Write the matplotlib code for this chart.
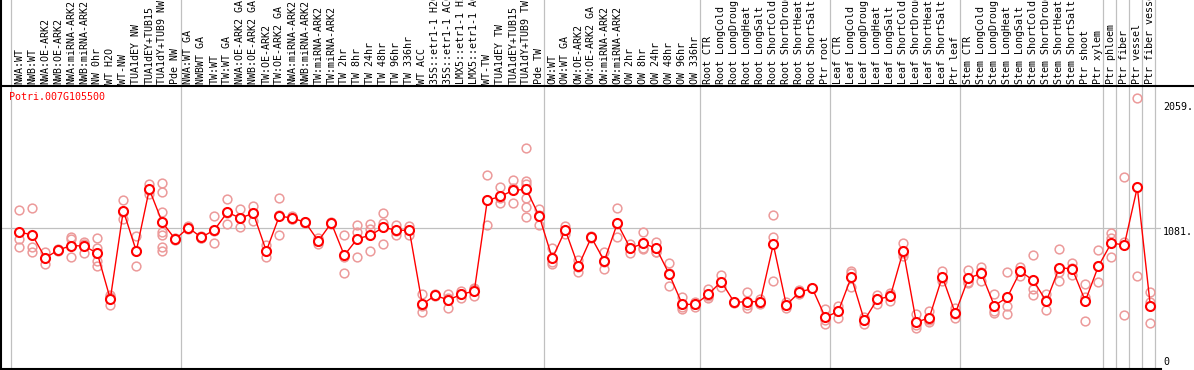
import matplotlib
matplotlib.use("Agg")
import matplotlib.pyplot as plt
from matplotlib.lines import Line2D
from matplotlib.transforms import blended_transform_factory, ScaledTranslation

# ---------------- data ----------------
title = "Potri.007G105500"

labels = [
    'NWA:WT', 'NWB:WT', 'NWA:OE-ARK2', 'NWB:OE-ARK2', 'NWA:miRNA-ARK2', 'NWB:miRNA-ARK2',
    'NW 0hr', 'WT H2O', 'WT-NW', 'TUA1dEY NW', 'TUA1dEY+TUB15', 'TUA1dY+TUB9 NW', 'Pde NW',
    'NWA:WT GA', 'NWBWT GA', 'TW:WT', 'TW:WT GA', 'NWA:OE-ARK2 GA', 'NWB:OE-ARK2 GA',
    'TW:OE-ARK2', 'TW:OE-ARK2 GA', 'NWA:miRNA-ARK2', 'NWB:miRNA-ARK2', 'TW:miRNA-ARK2',
    'TW:miRNA-ARK2', 'TW 2hr', 'TW 8hr', 'TW 24hr', 'TW 48hr', 'TW 96hr', 'TW 336hr', 'WT ACC',
    '35S::etr1-1 H2O', '35S::etr1-1 ACC', 'LMX5::etr1-1 H2O', 'LMX5::etr1-1 ACC', 'WT-TW',
    'TUA1dEY TW', 'TUA1dEY+TUB15', 'TUA1dY+TUB9 TW', 'Pde TW',
    'OW:WT', 'OW:WT GA', 'OW:OE-ARK2', 'OW:OE-ARK2 GA', 'OW:miRNA-ARK2', 'OW:miRNA-ARK2',
    'OW 2hr', 'OW 8hr', 'OW 24hr', 'OW 48hr', 'OW 96hr', 'OW 336hr',
    'Root CTR', 'Root LongCold', 'Root LongDrought', 'Root LongHeat', 'Root LongSalt',
    'Root ShortCold', 'Root ShortDrought', 'Root ShortHeat', 'Root ShortSalt', 'Ptr root',
    'Leaf CTR', 'Leaf LongCold', 'Leaf LongDrought', 'Leaf LongHeat', 'Leaf LongSalt',
    'Leaf ShortCold', 'Leaf ShortDrought', 'Leaf ShortHeat', 'Leaf ShortSalt', 'Ptr leaf',
    'Stem CTR', 'Stem LongCold', 'Stem LongDrought', 'Stem LongHeat', 'Stem LongSalt',
    'Stem ShortCold', 'Stem ShortDrought', 'Stem ShortHeat', 'Stem ShortSalt', 'Ptr shoot',
    'Ptr xylem', 'Ptr phloem', 'Ptr fiber', 'Ptr vessel', 'Ptr fiber vessel',
]

group_sizes = [13, 28, 12, 10, 10, 11, 1, 1, 1, 1]

means = [
    1051, 1027, 841, 906, 941, 938, 879, 509, 1224, 897, 1396, 1129, 992,
    1086, 1008, 1067, 1210, 1164, 1202, 897, 1180, 1164, 1129, 978, 1124, 862, 997, 1024,
    1089, 1065, 1065, 466, 539, 501, 547, 574, 1307, 1339, 1388, 1396, 1178,
    838, 1067, 773, 1008, 817, 1121, 919, 959, 919, 709, 466, 466,
    547, 650, 482, 488, 488, 951, 461, 563, 596, 361,
    410, 687, 337, 507, 531, 900, 321, 358, 690, 393,
    676, 717, 455, 523, 733, 660, 491, 763, 752, 493, 773,
    962, 946, 1412, 455,
]

replicates = [
    [1226, 992, 927], [1242, 927, 892], [892, 838, 790], [900, 906, 912],
    [1008, 992, 846], [970, 957, 884], [1000, 919, 817, 779], [542, 527, 458],
    [1307, 1212, 1153], [1016, 900, 773], [1442, 1390, 1361],
    [1445, 1372, 1213, 1051, 1024, 927, 900], [1000, 992, 984],
    [1100, 1080, 1078], [1021, 1003, 1000], [1180, 1062, 959], [1315, 1205, 1113],
    [1237, 1164, 1089], [1261, 1202, 1143], [946, 900, 846], [1323, 1190, 1024],
    [1183, 1156, 1153], [1135, 1129, 1124], [1000, 978, 954], [1130, 1124, 1118],
    [1024, 845, 717], [1108, 1048, 852], [1116, 1073, 895], [1202, 1121, 951],
    [1108, 1062, 1024], [1100, 1065, 1027], [547, 450, 402], [547, 539, 531],
    [547, 520, 434], [574, 547, 520], [601, 590, 531], [1509, 1307, 1105],
    [1412, 1323, 1283], [1471, 1410, 1283], [1727, 1463, 1436, 1323, 1256, 1170],
    [1237, 1187, 1110],
    [919, 806, 790], [1102, 1067, 1032], [822, 768, 730], [1015, 1008, 1000],
    [889, 810, 752], [1242, 1113, 1008], [954, 919, 884], [1048, 919, 911],
    [973, 892, 892], [798, 717, 612], [526, 447, 426], [485, 466, 447],
    [590, 531, 520], [703, 650, 609], [488, 482, 476], [566, 464, 434],
    [509, 488, 466], [1186, 1008, 655], [488, 461, 434], [579, 563, 547],
    [596], [426, 340, 307],
    [453, 410, 353], [736, 717, 609], [367, 337, 305], [542, 512, 466],
    [558, 539, 496], [959, 880, 860], [388, 297, 278], [412, 336, 326],
    [736, 680, 655], [434, 388, 358],
    [741, 645, 641], [765, 728, 658], [547, 412, 393], [728, 455, 391],
    [765, 738, 695], [862, 590, 542], [547, 505, 420], [916, 730, 655],
    [798, 757, 701], [628, 522, 329], [903, 773, 644],
    [1043, 1000, 852], [1493, 973, 377], [2132, 692], [566, 482, 313],
]

ytick_vals = [0, 1081, 2059]
ytick_labels = ['0', '1081.', '2059.']
grid_val = 1081

# ---------------- layout ----------------
W, H = 1194, 370
fig = plt.figure(figsize=(W / 100, H / 100), dpi=100)

def fx(px):
    return px / W

def fy(py):
    return 1 - py / H

ax_l, ax_r, ax_t, ax_b = 1.5, 1161, 86, 369
ax = fig.add_axes([fx(ax_l), fy(ax_b), fx(ax_r) - fx(ax_l), fy(ax_t) - fy(ax_b)])

col_w = 13.0
x0_px = 19.3
ax.set_xlim((ax_l - x0_px) / col_w, (ax_r - x0_px) / col_w)
vpp = 8.085
ax.set_ylim(-(ax_b - 362) * vpp, (362 - ax_t) * vpp)

for s in ['left', 'right', 'top', 'bottom']:
    ax.spines[s].set_visible(False)
ax.spines['bottom'].set_visible(True)
ax.spines['bottom'].set_linewidth(1.5)
ax.spines['bottom'].set_color('black')
ax.set_xticks([])
ax.set_yticks([])

mono = 'DejaVu Sans Mono'
fs = 7.2
grid_c = '#c0c0c0'

# horizontal grid line
ax.axhline(grid_val, color=grid_c, lw=0.9, zorder=1)

# group separators (full height)
ext = (ax_b - 0) / (ax_b - ax_t)
b = 0
bounds = [0]
for g in group_sizes:
    b += g
    bounds.append(b)
for bb in bounds:
    ax.axvline(bb - 0.6, ymin=0, ymax=ext, color=grid_c, lw=0.9, clip_on=False, zorder=1)

# replicates
xs = list(range(len(means)))
rx, ry = [], []
for i, r in enumerate(replicates):
    for v in r:
        rx.append(i)
        ry.append(v)
ax.plot(rx, ry, linestyle='none', marker='o', ms=6.3, mfc='none',
        mec='#ec9a9a', mew=1.1, zorder=2)

# means
ax.plot(xs, means, color='#ff0000', lw=1.0, marker='o', ms=6.5, mfc='white',
        mec='#ff0000', mew=1.5, zorder=3)

# labels
for i, lab in enumerate(labels):
    ax.text(i, 1, lab, transform=blended_transform_factory(ax.transData, fig.transFigure),
            rotation=90, ha='center', va='bottom', fontsize=fs, family=mono,
            color='black', clip_on=False)
# fix vertical position of labels: place bottom at px 84
for t in ax.texts:
    t.set_y(fy(84.5))

# title
fig.text(fx(9), fy(97), title, color='#ff0000', fontsize=fs, family=mono,
         ha='left', va='center')

# y tick labels on the right
offs = {0: 0, 1081: -4, 2059: 0}
for v, lab in zip(ytick_vals, ytick_labels):
    tr = blended_transform_factory(fig.transFigure, ax.transData) + \
        ScaledTranslation(0, offs[v] / 100, fig.dpi_scale_trans)
    fig.text(fx(1163), v, lab, transform=tr, fontsize=fs, family=mono,
             ha='left', va='center', color='black')

# frame lines: top across full width, left full height
fig.add_artist(Line2D([0, 1], [fy(86), fy(86)], color='black', lw=1.5,
                      transform=fig.transFigure))
fig.add_artist(Line2D([fx(1.2), fx(1.2)], [0, 1], color='black', lw=1.5,
                      transform=fig.transFigure))

fig.savefig('out.png', dpi=100)
